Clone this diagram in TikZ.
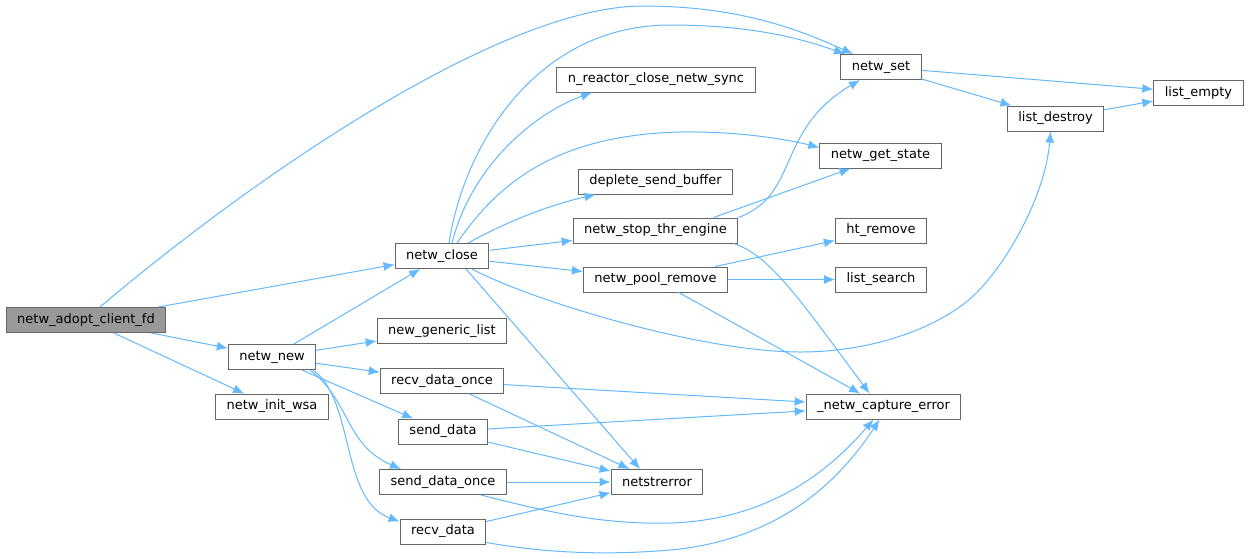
\documentclass[tikz,border=0pt]{standalone}
\usepackage{fontspec}
\setmainfont{DejaVu Sans}
\usetikzlibrary{arrows.meta}
\definecolor{callblue}{HTML}{63B8FF}
\definecolor{boxgray}{HTML}{666666}
\definecolor{rootgray}{HTML}{999999}

\begin{document}
\begin{tikzpicture}[
    x=1pt, y=-1pt,
    func/.style={rectangle,draw=boxgray,fill=white,line width=1pt,inner xsep=11pt,inner ysep=0pt,minimum height=25pt},
    root/.style={func,fill=rootgray},
    call/.style={draw=callblue,line width=1pt,-{Latex[length=11pt,width=9pt]}},
    font=\fontsize{13}{15}\selectfont
    ]
    \useasboundingbox (0,0) rectangle (1249,558);

    % caller:
    \node (adopt) at (86, 320) [root] {netw\_adopt\_client\_fd};

    % second column:
    \node (new) at (272, 357) [func] {netw\_new};
    \node (wsa) at (272, 406.5) [func] {netw\_init\_wsa};

    % third column:
    \node (close) at (442, 256) [func] {netw\_close};
    \node (generic) at (442, 331) [func] {new\_generic\_list};
    \node (recvonce) at (442, 381) [func] {recv\_data\_once};
    \node (senddata) at (443, 431.5) [func] {send\_data};
    \node (sendonce) at (443, 482) [func] {send\_data\_once};
    \node (recvdata) at (443, 531.5) [func] {recv\_data};

    % fourth column:
    \node (reactor) at (656, 79.5) [func] {n\_reactor\_close\_netw\_sync};
    \node (deplete) at (655.5, 181.5) [func] {deplete\_send\_buffer};
    \node (stopthr) at (655.5, 230.5) [func] {netw\_stop\_thr\_engine};
    \node (poolremove) at (655.5, 279.5) [func] {netw\_pool\_remove};
    \node (netstrerror) at (657, 482) [func] {netstrerror};

    % fifth column:
    \node (set) at (881, 67) [func] {netw\_set};
    \node (getstate) at (880.5, 155.5) [func] {netw\_get\_state};
    \node (htremove) at (881, 230.5) [func] {ht\_remove};
    \node (listsearch) at (881, 279.5) [func] {list\_search};
    \node (capture) at (883.5, 406.5) [func] {\_netw\_capture\_error};

    % right end:
    \node (listdestroy) at (1055.5, 118.5) [func] {list\_destroy};
    \node (listempty) at (1198.5, 93) [func] {list\_empty};

    % straight calls:
    \foreach \a/\b in {adopt/close, adopt/new, adopt/wsa, new/close, new/generic,
                       new/recvonce, new/senddata, close/stopthr, close/poolremove,
                       set/listempty, set/listdestroy, listdestroy/listempty,
                       poolremove/htremove, poolremove/listsearch, poolremove/capture,
                       recvonce/capture, recvonce/netstrerror, senddata/capture,
                       senddata/netstrerror, sendonce/netstrerror, recvdata/netstrerror}
      \draw [call] (\a) -- (\b);

    \draw [call] ([xshift=24pt]close.south) -- ([xshift=-17pt]netstrerror.north);
    \draw [call] ([xshift=58pt]stopthr.north) -- ([xshift=-30pt]getstate.south);

    % curved calls:
    \draw [call] ([xshift=14pt]adopt.north) .. controls (250,180) and (500,6) .. (643,6)
      .. controls (740,6) and (800,30) .. ([xshift=-28pt]set.north);
    \draw [call] ([xshift=7pt]close.north) .. controls (465,140) and (540,25) .. (670,25)
      .. controls (750,25) and (800,38) .. ([xshift=-36pt]set.north);
    \draw [call] ([xshift=10pt]close.north) .. controls (470,170) and (530,115) .. ([xshift=-64pt]reactor.south);
    \draw [call] ([xshift=15pt]close.north) .. controls (500,180) and (560,135) .. (680,132)
      .. controls (740,131) and (790,140) .. ([yshift=8pt]getstate.west);
    \draw [call] ([xshift=26pt]close.north) .. controls (510,220) and (550,205) .. ([xshift=-60pt]deplete.south);
    \draw [call] ([xshift=30pt]close.south) .. controls (530,300) and (700,352) .. (800,352)
      .. controls (870,352) and (930,330) .. (965,303)
      .. controls (1000,276) and (1045,200) .. ([xshift=-5pt]listdestroy.south);

    \draw [call] ([xshift=38pt]new.south) .. controls (350,400) and (345,445) .. ([xshift=-42pt]sendonce.north);
    \draw [call] ([xshift=41pt]new.south) .. controls (355,400) and (340,500) .. ([yshift=-3pt]recvdata.north west);

    \draw [call] (stopthr.north east) .. controls (800,195) and (775,130) .. ([xshift=-21pt]set.south);
    \draw [call] ([xshift=78pt]stopthr.south) .. controls (770,255) and (800,300) .. ([xshift=-14pt]capture.north);

    \draw [call] ([xshift=38pt]sendonce.south) .. controls (540,510) and (600,525) .. (670,523)
      .. controls (770,520) and (830,470) .. ([xshift=-10pt]capture.south);
    \draw [call] ([yshift=2pt]recvdata.south east) .. controls (540,552) and (600,556) .. (670,550)
      .. controls (780,540) and (840,480) .. ([xshift=-4pt]capture.south);

\end{tikzpicture}
\end{document}
